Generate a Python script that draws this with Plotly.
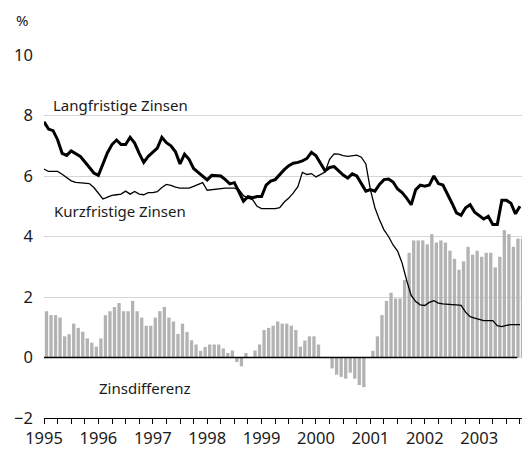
import plotly.graph_objects as go

start_year = 1995
n_months = 106

# Zinsdifferenz (monthly bars), %
spread = [
    1.53, 1.40, 1.40, 1.32, 0.70, 0.77, 1.12, 0.98, 0.85, 0.63, 0.49, 0.36,   # 1995
    0.63, 1.40, 1.53, 1.67, 1.80, 1.53, 1.53, 1.87, 1.53, 1.32, 1.05, 1.05,   # 1996
    1.32, 1.53, 1.67, 1.32, 1.19, 0.78, 1.12, 0.84, 0.57, 0.43, 0.22, 0.35,   # 1997
    0.43, 0.43, 0.43, 0.30, 0.15, 0.23, -0.15, -0.29, 0.15, 0.00, 0.23, 0.43, # 1998
    0.91, 0.98, 1.05, 1.19, 1.12, 1.12, 1.05, 0.91, 0.36, 0.56, 0.70, 0.70,   # 1999
    0.43, 0.00, 0.00, -0.36, -0.57, -0.64, -0.70, -0.50, -0.70, -0.91, -0.98, 0.00,  # 2000
    0.22, 0.70, 1.40, 1.87, 2.14, 1.95, 1.95, 2.56, 3.46, 3.87, 3.87, 3.87,   # 2001
    3.74, 4.08, 3.80, 3.87, 3.80, 3.53, 3.26, 2.90, 3.18, 3.66, 3.40, 3.53,   # 2002
    3.33, 3.46, 3.46, 2.98, 3.33, 4.21, 4.08, 3.66, 3.93, 3.93,               # 2003
]

# Langfristige Zinsen (thick line), %
long_rate = [
    7.79, 7.55, 7.50, 7.20, 6.75, 6.68, 6.83, 6.75, 6.65, 6.47, 6.30, 6.10,
    6.02, 6.42, 6.77, 7.04, 7.19, 7.04, 7.04, 7.28, 7.09, 6.75, 6.45, 6.65,
    6.80, 6.92, 7.28, 7.10, 7.00, 6.80, 6.40, 6.72, 6.55, 6.25, 6.12, 6.00,
    5.87, 6.02, 6.02, 6.00, 5.88, 5.74, 5.78, 5.45, 5.17, 5.32, 5.28, 5.32,
    5.32, 5.70, 5.83, 5.88, 6.05, 6.21, 6.34, 6.42, 6.45, 6.50, 6.58, 6.78,
    6.67, 6.42, 6.17, 6.28, 6.31, 6.17, 6.03, 5.93, 6.07, 6.00, 5.74, 5.50,
    5.55, 5.50, 5.72, 5.88, 5.90, 5.80, 5.57, 5.45, 5.27, 5.05, 5.55, 5.70,
    5.66, 5.70, 6.00, 5.75, 5.70, 5.42, 5.10, 4.78, 4.70, 4.95, 5.05, 4.80,
    4.70, 4.58, 4.67, 4.40, 4.40, 5.20, 5.20, 5.10, 4.75, 5.00,
]

# Kurzfristige Zinsen (thin line), %
short_rate = [
    6.23, 6.15, 6.15, 6.15, 6.06, 5.96, 5.84, 5.79, 5.77, 5.77, 5.75, 5.62,
    5.42, 5.24, 5.30, 5.36, 5.38, 5.40, 5.50, 5.40, 5.49, 5.40, 5.38, 5.45,
    5.45, 5.48, 5.62, 5.72, 5.69, 5.63, 5.60, 5.60, 5.60, 5.66, 5.73, 5.78,
    5.53, 5.55, 5.58, 5.60, 5.60, 5.60, 5.60, 5.55, 5.35, 5.27, 5.22, 5.00,
    4.92, 4.92, 4.92, 4.92, 4.95, 5.14, 5.27, 5.44, 5.65, 6.12, 6.05, 6.08,
    5.97, 6.04, 6.13, 6.55, 6.73, 6.72, 6.67, 6.65, 6.66, 6.69, 6.62, 6.40,
    5.55, 4.95, 4.55, 4.22, 4.00, 3.72, 3.52, 3.12, 2.55, 2.05, 1.85, 1.74,
    1.72, 1.82, 1.88, 1.80, 1.77, 1.77, 1.75, 1.74, 1.72, 1.50, 1.35, 1.30,
    1.26, 1.22, 1.22, 1.22, 1.05, 1.02, 1.06, 1.09, 1.09, 1.09,
]

year_ticks = [1995, 1996, 1997, 1998, 1999, 2000, 2001, 2002, 2003]
y_ticks = [-2, 0, 2, 4, 6, 8, 10]
y_tick_text = ["\u22122", "0", "2", "4", "6", "8", "10"]

line_x = [start_year + i / 12 for i in range(n_months)]
bar_x = [start_year + (i + 0.55) / 12 for i in range(len(spread))]

FONT = "Noto Sans"
TXT = "#1a1a1a"

fig = go.Figure()
fig.add_trace(go.Bar(x=bar_x, y=spread, marker=dict(color="#b3b3b3", line=dict(width=0)),
                     name="Zinsdifferenz", showlegend=False))
fig.add_trace(go.Scatter(x=line_x, y=short_rate, mode="lines",
                         line=dict(color="black", width=1.3), showlegend=False))
fig.add_trace(go.Scatter(x=line_x, y=long_rate, mode="lines",
                         line=dict(color="black", width=3), showlegend=False))

fig.add_shape(type="line", xref="x", yref="y", x0=start_year, x1=2003.7, y0=0, y1=0,
              line=dict(color="black", width=1.6), layer="above")

fig.add_annotation(x=1996.41, y=8.36, text="Langfristige Zinsen", showarrow=False,
                   font=dict(size=15, family=FONT, color=TXT))
fig.add_annotation(x=1996.4, y=4.85, text="Kurzfristige Zinsen", showarrow=False,
                   font=dict(size=15, family=FONT, color=TXT))
fig.add_annotation(x=1996.85, y=-1.0, text="Zinsdifferenz", showarrow=False,
                   font=dict(size=15, family=FONT, color=TXT))
fig.add_annotation(xref="paper", yref="paper", x=-0.046, y=1.096, text="%",
                   xanchor="center", yanchor="middle",
                   showarrow=False, font=dict(size=15, family=FONT, color=TXT))

fig.update_layout(
    width=522, height=450,
    margin=dict(l=44, r=0, t=55, b=32),
    plot_bgcolor="white", paper_bgcolor="white",
    bargap=0.27,
    font=dict(family=FONT, color=TXT, size=16.5),
    xaxis=dict(
        range=[start_year, 2003.787], tickvals=year_ticks,
        showgrid=False, zeroline=False,
        showline=True, linecolor="black", linewidth=1,
        ticks="outside", ticklen=5, tickcolor="black", tickwidth=1,
        minor=dict(dtick=0.25, tick0=start_year, ticks="outside", ticklen=5,
                   tickcolor="black", tickwidth=1, showgrid=False),
        tickfont=dict(size=16.5, family=FONT, color=TXT),
    ),
    yaxis=dict(
        range=[-2, 10], tickvals=y_ticks, ticktext=y_tick_text,
        showgrid=True, gridcolor="#d6d6d6", gridwidth=1,
        zeroline=False, showline=False, ticks="",
        ticklabelstandoff=10,
        tickfont=dict(size=16.5, family=FONT, color=TXT),
    ),
)

fig.write_html(
    "out.html",
    config={"displayModeBar": False},
    post_script="document.body.style.margin='0';document.body.style.overflow='hidden';",
)
